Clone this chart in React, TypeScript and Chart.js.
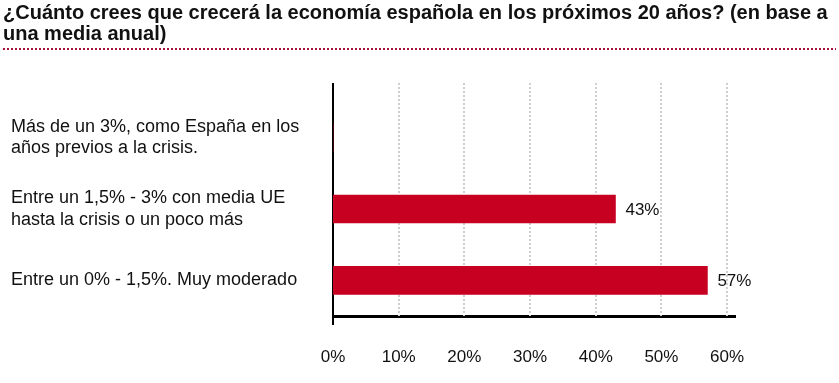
import React, { useEffect, useRef } from "react";
import { Chart, registerables } from "chart.js";

Chart.register(...registerables);

const titleLines = [
  "¿Cuánto crees que crecerá la economía española en los próximos 20 años? (en base a",
  "una media anual)",
];
const categories: string[][] = [
  ["Más de un 3%, como España en los", "años previos a la crisis."],
  ["Entre un 1,5% - 3% con media UE", "hasta la crisis o un poco más"],
  ["Entre un 0% - 1,5%. Muy moderado"],
];
const values = [0, 43, 57];
const xTicks = [0, 10, 20, 30, 40, 50, 60];

const FONT = '"Liberation Sans", Arial, Helvetica, sans-serif';
const BAR_COLOR = "#c70022";

const decorPlugin = {
  id: "decor",
  beforeDraw(chart: any) {
    const { ctx } = chart;
    ctx.save();
    ctx.fillStyle = "#111";
    ctx.font = `bold 20px ${FONT}`;
    ctx.textBaseline = "alphabetic";
    ctx.textAlign = "left";
    ctx.fillText(titleLines[0], 3, 19);
    ctx.fillText(titleLines[1], 3, 40);
    ctx.strokeStyle = "#a8123c";
    ctx.lineWidth = 2;
    ctx.setLineDash([2, 2]);
    ctx.beginPath();
    ctx.moveTo(3, 49);
    ctx.lineTo(836, 49);
    ctx.stroke();
    ctx.restore();
  },
  beforeDatasetsDraw(chart: any) {
    const { ctx, chartArea, scales } = chart;
    const x = scales.x;
    ctx.save();
    ctx.strokeStyle = "#d2cdcd";
    ctx.lineWidth = 2;
    ctx.setLineDash([2, 2]);
    for (const t of xTicks) {
      if (t === 0) continue;
      const px = Math.round(x.getPixelForValue(t));
      ctx.beginPath();
      ctx.moveTo(px, chartArea.top - 19);
      ctx.lineTo(px, chartArea.bottom);
      ctx.stroke();
    }
    ctx.setLineDash([]);
    ctx.strokeStyle = "#000";
    ctx.lineWidth = 2;
    const x0 = Math.round(x.getPixelForValue(0));
    ctx.beginPath();
    ctx.moveTo(x0, chartArea.top - 19);
    ctx.lineTo(x0, chartArea.bottom + 9);
    ctx.stroke();
    ctx.restore();
  },
  afterDatasetsDraw(chart: any) {
    const { ctx } = chart;
    const meta = chart.getDatasetMeta(0);
    ctx.save();
    ctx.fillStyle = "#111";
    ctx.font = `17px ${FONT}`;
    ctx.textBaseline = "middle";
    ctx.textAlign = "left";
    meta.data.forEach((bar: any, i: number) => {
      const v = values[i];
      if (!v) return;
      ctx.fillText(`${v}%`, bar.x + 10, bar.y + 1);
    });
    ctx.restore();
  },
};

export default function App() {
  const ref = useRef<HTMLCanvasElement | null>(null);
  useEffect(() => {
    if (!ref.current) return;
    const chart = new Chart(ref.current, {
      type: "bar",
      data: {
        labels: categories as any,
        datasets: [
          {
            data: values,
            backgroundColor: BAR_COLOR,
            borderWidth: 0,
            barThickness: 28,
          },
        ],
      },
      options: {
        indexAxis: "y",
        animation: false,
        responsive: false,
        maintainAspectRatio: false,
        layout: { padding: { left: 11, top: 102, right: 104, bottom: 0 } },
        plugins: {
          legend: { display: false },
          title: { display: false },
          tooltip: { enabled: false },
        },
        scales: {
          x: {
            type: "linear",
            min: 0,
            max: 61.2,
            afterBuildTicks: (scale: any) => {
              scale.ticks = xTicks.map((v) => ({ value: v }));
            },
            afterFit: (scale: any) => {
              scale.height = 67;
            },
            grid: { display: false },
            border: { display: true, color: "#000", width: 3 },
            ticks: {
              padding: 23,
              color: "#111",
              font: { family: FONT, size: 17 },
              callback: (v: any) => `${v}%`,
              maxRotation: 0,
              autoSkip: false,
            },
          },
          y: {
            type: "category",
            afterFit: (scale: any) => {
              scale.width = 322;
            },
            grid: { display: false },
            border: { display: false },
            ticks: {
              crossAlign: "far",
              padding: 0,
              color: "#111",
              font: { family: FONT, size: 18, lineHeight: 1.2 },
              autoSkip: false,
            },
          },
        },
      },
      plugins: [decorPlugin],
    });
    return () => chart.destroy();
  }, []);
  return (
    <div style={{ position: "absolute", left: 0, top: 0, width: 839, height: 383, background: "#fff" }}>
      <canvas ref={ref} width={839} height={383} />
    </div>
  );
}
